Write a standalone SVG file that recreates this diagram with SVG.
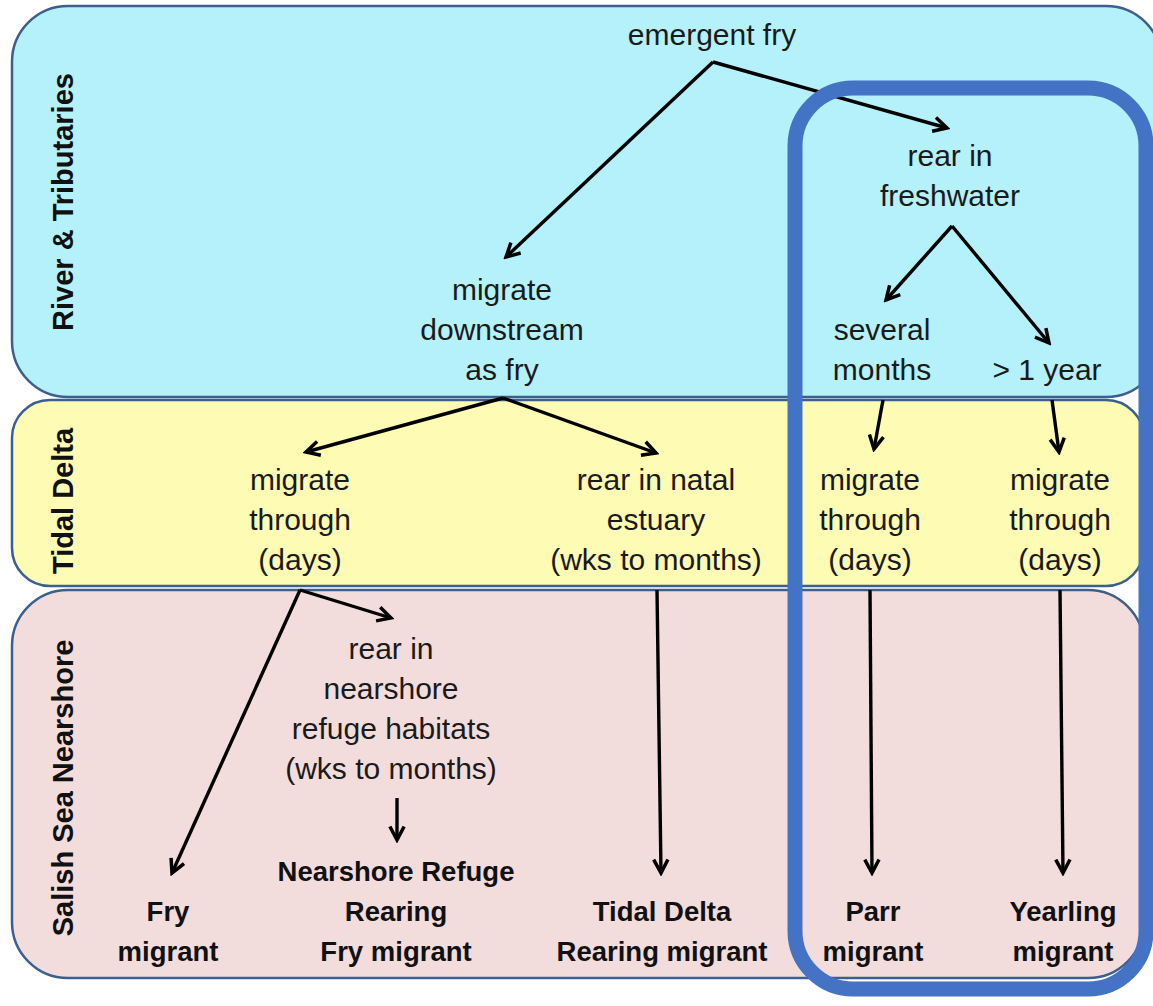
<svg xmlns="http://www.w3.org/2000/svg" width="1153" height="1006" viewBox="0 0 1153 1006">
<defs>
<marker id="ah" viewBox="0 0 12 12" refX="10" refY="6" markerWidth="19" markerHeight="19" markerUnits="userSpaceOnUse" orient="auto">
<path d="M1.5,1.5 L10,6 L1.5,10.5" fill="none" stroke="#000" stroke-width="2.2" stroke-linejoin="miter"/>
</marker>
<style>
.band{stroke:#3d5f8c;stroke-width:2.5}
.t{font-family:"Liberation Sans",Arial,sans-serif;font-size:30px;fill:#1a1a1a;text-anchor:middle}
.b{font-family:"Liberation Sans",Arial,sans-serif;font-size:27.5px;font-weight:bold;fill:#111;text-anchor:middle}
.lab{font-family:"Liberation Sans",Arial,sans-serif;font-size:29px;font-weight:bold;fill:#111;text-anchor:middle}
.c{stroke:#000;stroke-width:3.4;fill:none;marker-end:url(#ah)}
</style>
</defs>
<rect width="1153" height="1006" fill="#fff"/>
<g id="band-river">
<rect class="band" x="12" y="6" width="1150" height="391" rx="56" fill="#b5f1fa"/>
<text class="lab" transform="translate(73,202) rotate(-90)">River &amp; Tributaries</text>
</g>
<g id="band-delta">
<rect class="band" x="12" y="400" width="1132" height="186" rx="38" fill="#fdfbb4"/>
<text class="lab" transform="translate(73,501) rotate(-90)">Tidal Delta</text>
</g>
<g id="band-nearshore">
<rect class="band" x="12" y="590" width="1132" height="388" rx="56" fill="#f3dcdc"/>
<text class="lab" transform="translate(73,788) rotate(-90)">Salish Sea Nearshore</text>
</g>
<g id="n-emergent"><text class="t" x="712" y="45">emergent fry</text></g>
<g id="n-rearfresh"><text class="t" x="950" y="166">rear in</text><text class="t" x="950" y="206">freshwater</text></g>
<g id="n-migdown"><text class="t" x="502" y="300">migrate</text><text class="t" x="502" y="340">downstream</text><text class="t" x="502" y="380">as fry</text></g>
<g id="n-several"><text class="t" x="882" y="340">several</text><text class="t" x="882" y="380">months</text></g>
<g id="n-year"><text class="t" x="1047" y="380">&gt; 1 year</text></g>
<g id="n-mig1"><text class="t" x="300" y="490">migrate</text><text class="t" x="300" y="530">through</text><text class="t" x="300" y="570">(days)</text></g>
<g id="n-natal"><text class="t" x="656" y="490">rear in natal</text><text class="t" x="656" y="530">estuary</text><text class="t" x="656" y="570">(wks to months)</text></g>
<g id="n-mig2"><text class="t" x="870" y="490">migrate</text><text class="t" x="870" y="530">through</text><text class="t" x="870" y="570">(days)</text></g>
<g id="n-mig3"><text class="t" x="1060" y="490">migrate</text><text class="t" x="1060" y="530">through</text><text class="t" x="1060" y="570">(days)</text></g>
<g id="n-refuge"><text class="t" x="391" y="659">rear in</text><text class="t" x="391" y="699">nearshore</text><text class="t" x="391" y="739">refuge habitats</text><text class="t" x="391" y="779">(wks to months)</text></g>
<g id="n-nrfm"><text class="b" x="396" y="881">Nearshore Refuge</text><text class="b" x="396" y="921">Rearing</text><text class="b" x="396" y="961">Fry migrant</text></g>
<g id="n-fry"><text class="b" x="168" y="921">Fry</text><text class="b" x="168" y="961">migrant</text></g>
<g id="n-tdrm"><text class="b" x="662" y="921">Tidal Delta</text><text class="b" x="662" y="961">Rearing migrant</text></g>
<g id="n-parr"><text class="b" x="873" y="921">Parr</text><text class="b" x="873" y="961">migrant</text></g>
<g id="n-yearling"><text class="b" x="1063" y="921">Yearling</text><text class="b" x="1063" y="961">migrant</text></g>
<g id="connectors">
<path class="c" d="M713,62 L506,257"/>
<path class="c" d="M713,62 L947,128"/>
<path class="c" d="M952,226 L886,300"/>
<path class="c" d="M952,226 L1049,343"/>
<path class="c" d="M503,398 L306,452"/>
<path class="c" d="M503,398 L656,453"/>
<path class="c" d="M883,400 L874,449"/>
<path class="c" d="M1052,400 L1059,452"/>
<path class="c" d="M300,590 L172,873"/>
<path class="c" d="M300,590 L391,618"/>
<path class="c" d="M397,798 L397,840"/>
<path class="c" d="M657,590 L661,873"/>
<path class="c" d="M870,590 L872,873"/>
<path class="c" d="M1060,590 L1063,873"/>
</g>
<g id="highlight">
<rect x="795" y="88" width="351" height="901" rx="58" fill="none" stroke="#4472c4" stroke-width="15"/>
</g>
</svg>
